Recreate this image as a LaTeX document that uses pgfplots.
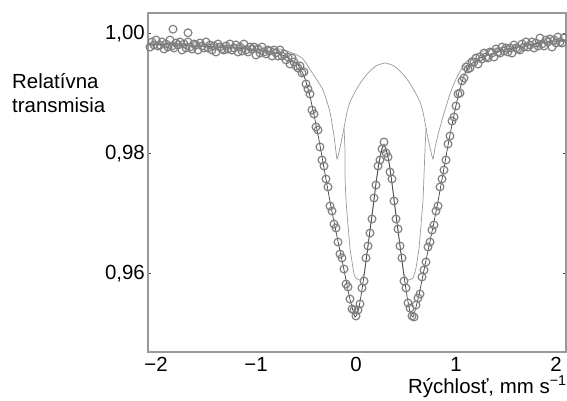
\documentclass[border=0pt]{standalone}
\usepackage{fontspec}
\setmainfont{Liberation Sans}
\usepackage{pgfplots}
\pgfplotsset{compat=1.18}

\begin{document}
\fontsize{20.5}{24}\selectfont
\begin{tikzpicture}
\useasboundingbox (-148bp,-49bp) rectangle (419bp,352bp);
\begin{axis}[
    at={(0,0)}, anchor=south west,
    scale only axis, width=418bp, height=339bp,
    xmin=-2.08, xmax=2.10, ymin=0.947, ymax=1.0035,
    axis line style={draw=black!40, line width=1.2bp},
    xtick={-2,-1,0,1,2},
    xticklabels={−2,−1,0,1,2},
    ytick={0.96,0.98,1.00},
    yticklabels={{0,96},{0,98},{1,00}},
    tick align=inside,
    major tick length=3bp,
    xtick style={draw=none},
    ytick style={draw=black!75, line width=1bp},
    yticklabel style={inner sep=0pt, xshift=-3bp},
    xticklabel style={inner sep=0pt, yshift=-5bp},
]
% component 1 (outer doublet)
\addplot[draw=black!40, line width=0.7bp, smooth, tension=0.3] coordinates {
(-2.08,0.99850) (-1.56,0.99833) (-1.06,0.99800) (-0.76,0.99750) (-0.61,0.99667)
(-0.53,0.99583) (-0.43,0.99333) (-0.33,0.99067) (-0.26,0.98700) (-0.22,0.98300)
(-0.19,0.97917) (-0.17,0.98033) (-0.15,0.98183) (-0.12,0.98433) (-0.09,0.98700)
(-0.06,0.98867) (-0.01,0.99033) (0.05,0.99200) (0.12,0.99350) (0.20,0.99467)
(0.29,0.99517) (0.38,0.99467) (0.46,0.99350) (0.53,0.99200) (0.59,0.99033)
(0.64,0.98867) (0.67,0.98700) (0.70,0.98433) (0.73,0.98183) (0.75,0.98033)
(0.77,0.97917) (0.79,0.98100) (0.82,0.98317) (0.86,0.98567) (0.89,0.98733)
(0.93,0.98950) (0.97,0.99133) (1.02,0.99317) (1.10,0.99533) (1.19,0.99650)
(1.34,0.99750) (1.64,0.99817) (2.10,0.99883)
};
% component 2 (inner doublet)
\addplot[draw=black!40, line width=0.7bp, smooth, tension=0.3] coordinates {
(-0.12,0.98433) (-0.11,0.98067) (-0.11,0.97650) (-0.10,0.97233) (-0.08,0.96817)
(-0.06,0.96433) (-0.03,0.96100) (-0.01,0.95950) (0.04,0.95900) (0.08,0.96000)
(0.11,0.96367) (0.14,0.96750) (0.17,0.97133) (0.20,0.97533) (0.23,0.97883)
(0.26,0.98100) (0.28,0.98167) (0.30,0.98100) (0.33,0.97883) (0.36,0.97533)
(0.39,0.97133) (0.42,0.96750) (0.45,0.96367) (0.48,0.96000) (0.52,0.95900)
(0.57,0.95933) (0.60,0.96100) (0.63,0.96433) (0.65,0.96817) (0.67,0.97233)
(0.68,0.97650) (0.69,0.98067) (0.70,0.98433)
};
% measured spectrum
\addplot[only marks, mark=o, mark size=3.9bp,
         mark options={draw=black!50, line width=1.2bp}] coordinates {
(-2.06,0.99783) (-2.04,0.99867) (-2.02,0.99817) (-2.00,0.99900) (-1.98,0.99800)
(-1.96,0.99817) (-1.94,0.99867) (-1.92,0.99750) (-1.90,0.99833) (-1.88,0.99783)
(-1.86,0.99900) (-1.84,0.99800) (-1.82,0.99767) (-1.80,0.99850) (-1.78,0.99817)
(-1.76,0.99867) (-1.74,0.99733) (-1.72,0.99833) (-1.70,0.99767) (-1.68,0.99867)
(-1.66,0.99783) (-1.64,0.99750) (-1.62,0.99833) (-1.60,0.99817) (-1.58,0.99733)
(-1.56,0.99850) (-1.54,0.99800) (-1.52,0.99767) (-1.50,0.99867) (-1.48,0.99767)
(-1.46,0.99817) (-1.44,0.99733) (-1.42,0.99800) (-1.40,0.99700) (-1.38,0.99833)
(-1.36,0.99783) (-1.34,0.99750) (-1.32,0.99733) (-1.30,0.99800) (-1.28,0.99750)
(-1.26,0.99833) (-1.24,0.99733) (-1.22,0.99767) (-1.20,0.99817) (-1.18,0.99700)
(-1.16,0.99783) (-1.14,0.99717) (-1.12,0.99833) (-1.10,0.99733) (-1.08,0.99700)
(-1.06,0.99783) (-1.04,0.99750) (-1.02,0.99783) (-1.00,0.99650) (-0.98,0.99750)
(-0.96,0.99683) (-0.94,0.99783) (-0.92,0.99700) (-0.90,0.99667) (-0.88,0.99733)
(-0.86,0.99717) (-0.84,0.99633) (-0.82,0.99733) (-0.80,0.99683) (-0.78,0.99633)
(-0.76,0.99733) (-0.74,0.99633) (-0.72,0.99667) (-0.70,0.99567) (-0.68,0.99617)
(-0.66,0.99500) (-0.64,0.99600) (-0.62,0.99533) (-0.60,0.99467) (-0.58,0.99433)
(-0.56,0.99467) (-0.54,0.99350) (-0.52,0.99367) (-0.50,0.99167) (-0.48,0.99083)
(-0.46,0.99000) (-0.44,0.98733) (-0.42,0.98667) (-0.40,0.98450) (-0.38,0.98400)
(-0.36,0.98117) (-0.34,0.97900) (-0.32,0.97800) (-0.30,0.97583) (-0.28,0.97450)
(-0.26,0.97133) (-0.24,0.97050) (-0.22,0.96833) (-0.20,0.96767) (-0.18,0.96533)
(-0.16,0.96333) (-0.14,0.96267) (-0.12,0.96083) (-0.10,0.95833) (-0.08,0.95783)
(-0.06,0.95583) (-0.04,0.95417) (-0.02,0.95400) (0.00,0.95300) (0.02,0.95400)
(0.04,0.95500) (0.06,0.95767) (0.08,0.95883) (0.10,0.96267) (0.12,0.96467)
(0.14,0.96683) (0.16,0.96917) (0.18,0.97267) (0.20,0.97483) (0.22,0.97800)
(0.24,0.97900) (0.26,0.98083) (0.28,0.98200) (0.30,0.98017) (0.32,0.97950)
(0.34,0.97700) (0.36,0.97583) (0.38,0.97217) (0.40,0.96917) (0.42,0.96750)
(0.44,0.96467) (0.46,0.96267) (0.48,0.95883) (0.50,0.95767) (0.52,0.95517)
(0.54,0.95433) (0.56,0.95300) (0.58,0.95283) (0.60,0.95483) (0.62,0.95600)
(0.64,0.95667) (0.66,0.95950) (0.68,0.96067) (0.70,0.96200) (0.72,0.96450)
(0.74,0.96533) (0.76,0.96733) (0.78,0.96817) (0.80,0.97050) (0.82,0.97133)
(0.84,0.97450) (0.86,0.97583) (0.88,0.97733) (0.90,0.97900) (0.92,0.98167)
(0.94,0.98300) (0.96,0.98550) (0.98,0.98617) (1.00,0.98800) (1.02,0.99000)
(1.04,0.99017) (1.06,0.99217) (1.08,0.99267) (1.10,0.99450) (1.12,0.99417)
(1.14,0.99433) (1.16,0.99533) (1.18,0.99533) (1.20,0.99600) (1.22,0.99500)
(1.24,0.99617) (1.26,0.99583) (1.28,0.99683) (1.30,0.99617) (1.32,0.99600)
(1.34,0.99700) (1.36,0.99683) (1.38,0.99617) (1.40,0.99750) (1.42,0.99700)
(1.44,0.99683) (1.46,0.99783) (1.48,0.99717) (1.50,0.99767) (1.52,0.99700)
(1.54,0.99767) (1.56,0.99683) (1.58,0.99817) (1.60,0.99767) (1.62,0.99750)
(1.64,0.99733) (1.66,0.99833) (1.68,0.99783) (1.70,0.99867) (1.72,0.99783)
(1.74,0.99817) (1.76,0.99867) (1.78,0.99767) (1.80,0.99850) (1.82,0.99800)
(1.84,0.99933) (1.86,0.99833) (1.88,0.99800) (1.90,0.99900) (1.92,0.99867)
(1.94,0.99917) (1.96,0.99783) (1.98,0.99900) (2.00,0.99850) (2.02,0.99950)
(2.04,0.99867) (2.06,0.99850) (2.08,0.99933)
(-1.83,1.00080) (-1.68,1.00020)
};
% total fit
\addplot[draw=black!75, line width=0.7bp, smooth, tension=0.3] coordinates {
(-2.08,0.99833) (-1.56,0.99800) (-1.06,0.99750) (-0.86,0.99700) (-0.76,0.99667)
(-0.66,0.99583) (-0.57,0.99467) (-0.52,0.99300) (-0.47,0.99033) (-0.42,0.98650)
(-0.37,0.98233) (-0.32,0.97767) (-0.27,0.97300) (-0.22,0.96867) (-0.17,0.96467)
(-0.12,0.96067) (-0.07,0.95650) (-0.04,0.95450) (-0.01,0.95283) (0.02,0.95367)
(0.05,0.95633) (0.08,0.95967) (0.11,0.96333) (0.14,0.96717) (0.17,0.97100)
(0.20,0.97500) (0.23,0.97850) (0.26,0.98083) (0.28,0.98150) (0.30,0.98083)
(0.33,0.97850) (0.36,0.97500) (0.39,0.97100) (0.42,0.96717) (0.45,0.96333)
(0.48,0.95967) (0.51,0.95633) (0.54,0.95367) (0.57,0.95283) (0.60,0.95450)
(0.63,0.95650) (0.68,0.96067) (0.73,0.96467) (0.78,0.96867) (0.83,0.97300)
(0.88,0.97767) (0.93,0.98233) (0.98,0.98650) (1.03,0.99033) (1.08,0.99300)
(1.13,0.99467) (1.22,0.99583) (1.32,0.99650) (1.41,0.99700) (1.57,0.99767)
(1.74,0.99817) (1.91,0.99867) (2.10,0.99900)
};
\end{axis}
\node[anchor=base west, inner sep=0pt] at (-136bp,263bp) {Relatívna};
\node[anchor=base west, inner sep=0pt] at (-136bp,239bp) {transmisia};
\node[anchor=base west, inner sep=0pt] at (260bp,-41bp) {Rýchlosť, mm s\textsuperscript{−1}};
\end{tikzpicture}
\end{document}
